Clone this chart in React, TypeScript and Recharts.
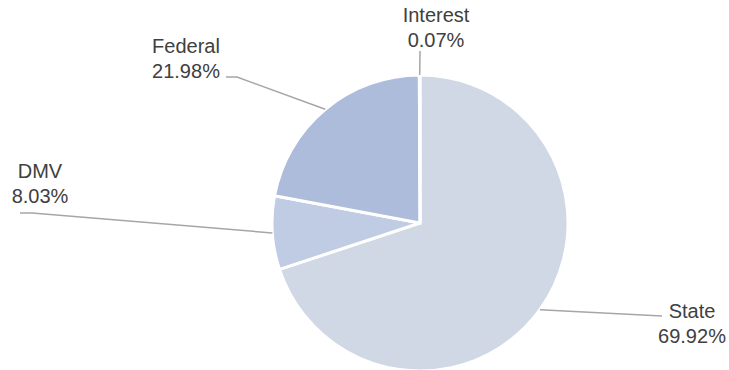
import React from 'react';
import { PieChart, Pie, Cell } from 'recharts';

const categories = ['State', 'DMV', 'Federal', 'Interest'];
const shares = [69.92, 8.03, 21.98, 0.07];
const colors = ['#d0d8e6', '#c0cce3', '#adbcda', '#adbcda'];

const data = categories.map((name, i) => ({ name, value: shares[i] }));

// where each callout text sits and where its leader line ends
const callouts: Record<string, { tx: number; ty: number; end: [number, number]; elbow?: [number, number] }> = {
  State: { tx: 692, ty: 318, end: [662, 316] },
  DMV: { tx: 40, ty: 178, end: [20, 213], elbow: [32, 213] },
  Federal: { tx: 186, ty: 53, end: [226, 77], elbow: [237, 77] },
  Interest: { tx: 436, ty: 22, end: [420, 51] },
};

const RAD = Math.PI / 180;

const renderLabel = (props: any) => {
  const { cx, cy, midAngle, outerRadius, index } = props;
  const name = categories[index];
  const c = callouts[name];
  const sx = cx + outerRadius * Math.cos(-midAngle * RAD);
  const sy = cy + outerRadius * Math.sin(-midAngle * RAD);
  const pts = [[sx, sy]];
  if (c.elbow) pts.push(c.elbow);
  pts.push(c.end);
  return (
    <g>
      <polyline
        points={pts.map((p) => p.join(',')).join(' ')}
        fill="none"
        stroke="#a6a6a6"
        strokeWidth={1.5}
      />
      <text x={c.tx} y={c.ty} textAnchor="middle" fill="#404040" fontSize={20}>
        {name}
      </text>
      <text x={c.tx} y={c.ty + 25} textAnchor="middle" fill="#404040" fontSize={20}>
        {shares[index].toFixed(2)}%
      </text>
    </g>
  );
};

export default function App() {
  return (
    <div style={{ position: 'absolute', left: 0, top: 0, background: '#fff' }}>
      <PieChart
        width={729}
        height={370}
        margin={{ top: 0, right: 0, bottom: 0, left: 0 }}
        style={{ fontFamily: 'Liberation Sans, Arial, sans-serif' }}
      >
        <Pie
          data={data}
          dataKey="value"
          nameKey="name"
          cx={420}
          cy={223}
          outerRadius={148}
          startAngle={90}
          endAngle={-270}
          stroke="#ffffff"
          strokeWidth={3}
          label={renderLabel}
          labelLine={false}
          isAnimationActive={false}
        >
          {data.map((d, i) => (
            <Cell key={d.name} fill={colors[i]} />
          ))}
        </Pie>
      </PieChart>
    </div>
  );
}
